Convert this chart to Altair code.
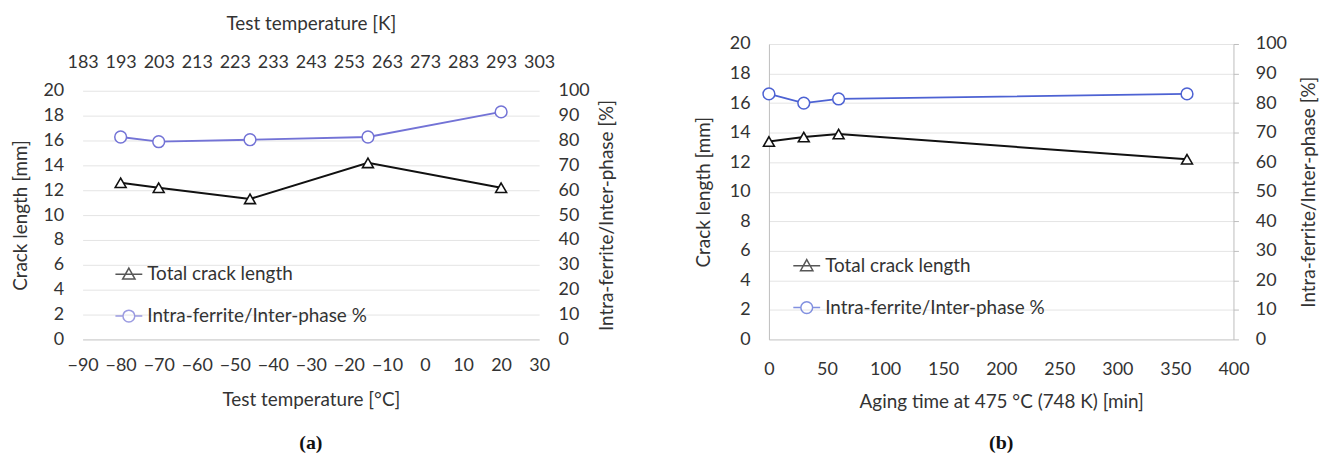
import altair as alt
import pandas as pd

# ---------------- data ----------------
# panel (a): test temperature
temp_c = [-80, -70, -46, -15, 20]
crack_a = [12.6, 12.2, 11.3, 14.2, 12.2]
pct_a = [81.4, 79.5, 80.3, 81.4, 91.5]

# panel (b): aging time
aging_min = [0, 30, 60, 360]
crack_b = [13.4, 13.7, 13.9, 12.2]
pct_b = [83.1, 80.0, 81.4, 83.1]

c_ticks = list(range(-90, 31, 10))
k_ticks = list(range(183, 304, 10))
min_ticks = list(range(0, 401, 50))
mm_ticks = list(range(0, 21, 2))
pct_ticks = list(range(0, 101, 10))

series_names = ["Total crack length", "Intra-ferrite/Inter-phase %"]

FONT = "Lato"
TXT = "#333333"
GRID = "#e4e4e4"
BLACK = "#111111"
BLUE_A = "#7373d6"
BLUE_B = "#4d62d3"
TICK_FS = 18
TITLE_FS = 19

TRI_PATH = "M-1,0H1M0,-0.46L0.46,0.36H-0.46Z"
CIRC_PATH = "M-1,0H-0.44M0.44,0H1M0.44,0A0.44,0.44,0,1,1,-0.44,0A0.44,0.44,0,1,1,0.44,0Z"


def legend_layer(blue, lx, ly):
    ldf = pd.DataFrame({"series": series_names})
    leg = alt.Legend(title=None, orient="none", legendX=lx, legendY=ly,
                     labelFont=FONT, labelFontSize=TITLE_FS, labelColor=TXT, labelLimit=500,
                     labelOffset=4, rowPadding=17, padding=0,
                     symbolSize=729, symbolStrokeWidth=1.5,
                     symbolFillColor="transparent")
    return alt.Chart(ldf).transform_filter("false").mark_point(
        filled=False, size=729, strokeWidth=1.5
    ).encode(
        color=alt.Color("series:N", scale=alt.Scale(domain=series_names, range=[BLACK, blue]), legend=leg),
        shape=alt.Shape("series:N", scale=alt.Scale(domain=series_names, range=[TRI_PATH, CIRC_PATH]), legend=leg),
    )


def panel(xvals, crack, pct, xtitle, xdomain, xticks, blue, w, h, yrange, lx, ly,
          caption, top_axis, boxed, x_lp, x_tp, yr_tp, y_tp, cap_off):
    df = pd.DataFrame({"x": xvals, "crack": crack, "pct": pct})
    xs = alt.Scale(domain=xdomain, nice=False, zero=False)
    ys_c = alt.Scale(domain=[0, 20], nice=False, range=yrange)
    ys_p = alt.Scale(domain=[0, 100], nice=False, range=yrange)
    x_axis = alt.Axis(values=xticks, title=xtitle, grid=False,
                      ticks=False, domain=True, domainColor="#cfcfcf",
                      labelOverlap=False, labelFlush=False,
                      labelPadding=x_lp, titlePadding=x_tp,
                      labelFontSize=TICK_FS, titleFontSize=TITLE_FS)
    y_left = alt.Axis(values=mm_ticks, title="Crack length [mm]", grid=True, gridColor=GRID,
                      ticks=False, domain=boxed, domainColor="#bdbdbd",
                      labelOverlap=False, labelFlush=False,
                      labelPadding=19, titlePadding=y_tp,
                      labelFontSize=TICK_FS, titleFontSize=TITLE_FS)
    y_right = alt.Axis(values=pct_ticks, orient="right", title="Intra-ferrite/Inter-phase [%]",
                       grid=False, ticks=boxed, tickSize=5, tickColor="#bdbdbd",
                       domain=boxed, domainColor="#bdbdbd",
                       labelOverlap=False, labelFlush=False,
                       labelPadding=17 if boxed else 19, titlePadding=yr_tp,
                       titleAngle=270, labelFontSize=TICK_FS, titleFontSize=TITLE_FS)

    base = alt.Chart(df)
    cx = alt.X("x:Q", scale=xs, axis=x_axis)
    cy = alt.Y("crack:Q", scale=ys_c, axis=y_left)
    px = alt.X("x:Q", scale=xs, axis=None)
    py = alt.Y("pct:Q", scale=ys_p, axis=y_right)

    crack_line = base.mark_line(color=BLACK, strokeWidth=2).encode(x=cx, y=cy)
    crack_pts = base.mark_point(shape="triangle-up", size=120, filled=True, fill="white",
                                stroke=BLACK, strokeWidth=1.6, opacity=1).encode(x=cx, y=cy)
    pct_line = base.mark_line(color=blue, strokeWidth=1.8).encode(x=px, y=py)
    pct_pts = base.mark_point(shape="circle", size=140, filled=True, fill="white",
                              stroke=blue, strokeWidth=1.5, opacity=1).encode(x=px, y=py)

    layers = [alt.layer(crack_line, crack_pts), alt.layer(pct_line, pct_pts)]

    if top_axis:
        tdf = pd.DataFrame({"k": k_ticks})
        top = alt.Chart(tdf).mark_rule(opacity=0).encode(
            x=alt.X("k:Q", scale=alt.Scale(domain=[183, 303], nice=False, zero=False),
                    axis=alt.Axis(orient="top", values=k_ticks, title="Test temperature [K]",
                                  grid=False, ticks=False, domain=False,
                                  labelOverlap=False, labelFlush=False,
                                  labelPadding=19, titlePadding=21,
                                  labelFontSize=TICK_FS, titleFontSize=TITLE_FS)))
        layers.append(top)

    layers.append(legend_layer(blue, lx, ly))

    return alt.layer(*layers).resolve_scale(
        x="independent", y="independent"
    ).properties(
        width=w, height=h,
        title=alt.TitleParams(caption, orient="bottom", font="Liberation Serif",
                              fontSize=20, fontWeight="bold", color="#111111", offset=cap_off),
    )


chart_a = panel(temp_c, crack_a, pct_a, "Test temperature [°C]", [-90, 30], c_ticks,
                BLUE_A, 459, 250, [250, 0], 32, 170, "(a)", True, False,
                x_lp=17, x_tp=16, yr_tp=27, y_tp=13, cap_off=24)
chart_b = panel(aging_min, crack_b, pct_b, "Aging time at 475 °C (748 K) [min]", [0, 400], min_ticks,
                BLUE_B, 467, 250, [250, -47], 23.5, 161.5, "(b)", False, True,
                x_lp=21, x_tp=14, yr_tp=32, y_tp=16, cap_off=22)

chart = alt.hconcat(chart_a, chart_b, spacing=78).resolve_scale(
    color="independent", shape="independent"
).properties(
    padding={"left": 3, "top": 5, "right": 0, "bottom": 0}
).configure_view(stroke=None).configure_axis(
    labelFont=FONT, titleFont=FONT, labelColor=TXT, titleColor=TXT, titleFontWeight="normal"
)

chart.save("out.html", embed_options={"renderer": "svg", "actions": False})
